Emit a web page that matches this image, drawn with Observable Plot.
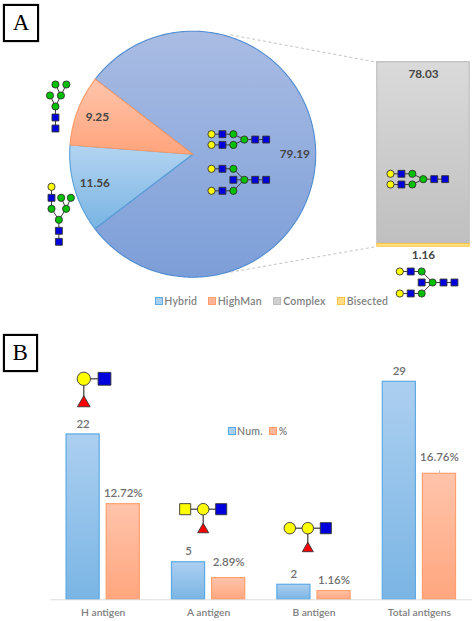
<!doctype html>
<html><head><meta charset="utf-8">
<script src="https://cdn.jsdelivr.net/npm/d3@7"></script>
<script src="https://cdn.jsdelivr.net/npm/@observablehq/plot@0.6"></script>
<style>
html,body{margin:0;padding:0;background:#fff}
#chart{position:relative;width:472px;height:621px;overflow:hidden;font-family:Lato,sans-serif}
.frame{position:absolute;box-sizing:border-box;border:2px solid #000;box-shadow:0 0 1px #333;display:flex;align-items:center;justify-content:center;font:23px "Liberation Serif",serif;color:#000}
.lg{position:absolute;font:600 10.5px Lato,sans-serif;color:#808080;line-height:12px;white-space:nowrap;letter-spacing:.2px}
.sw{position:absolute;width:6px;height:6px;border:1px solid}
</style></head><body>
<svg width="0" height="0" style="position:absolute"><defs>
<linearGradient id="gcomplex" x1="0" y1="0" x2="0" y2="1"><stop offset="0" stop-color="#a9bce3"/><stop offset="1" stop-color="#7c9ed8"/></linearGradient>
<linearGradient id="ghybrid" x1="0" y1="0" x2="0" y2="1"><stop offset="0" stop-color="#b4d4f1"/><stop offset="1" stop-color="#78b4e3"/></linearGradient>
<linearGradient id="ghigh" x1="0" y1="0" x2="0" y2="1"><stop offset="0" stop-color="#ffc4ab"/><stop offset="1" stop-color="#ffa47c"/></linearGradient>
<linearGradient id="ggrey" x1="0" y1="0" x2="0" y2="1"><stop offset="0" stop-color="#dadada"/><stop offset="1" stop-color="#bfbfbf"/></linearGradient>
<linearGradient id="gnum" x1="0" y1="0" x2="0" y2="1"><stop offset="0" stop-color="#accff0"/><stop offset="1" stop-color="#7ab5e4"/></linearGradient>
<linearGradient id="gpct" x1="0" y1="0" x2="0" y2="1"><stop offset="0" stop-color="#ffc4ab"/><stop offset="1" stop-color="#ffa67e"/></linearGradient>
</defs></svg>
<div id="chart"></div>
<script>
// ---- values ----
const pieNames = ["Complex", "Hybrid", "HighMan"];
const pieValues = [79.19, 11.56, 9.25];
const breakdownNames = ["Bisected", "Complex"];
const breakdownValues = [1.16, 78.03];
const antigenGroups = ["H antigen", "A antigen", "B antigen", "Total antigens"];
const antigenCounts = [22, 5, 2, 29];
const antigenPercents = [12.72, 2.89, 1.16, 16.76];
const legendA = ["Hybrid", "HighMan", "Complex", "Bisected"];
const legendB = ["Num.", "%"];

// ---- glycan structures: residue [type, column, row], bonds between residue indices ----
const biantennary = {
  residues: [["gal",0,0],["glc",1,0],["man",2,0],["gal",0,1],["glc",1,1],["man",2,1],["man",3,.5],["glc",4,.5],["glc",5,.5]],
  bonds: [[0,1],[1,2],[2,6],[3,4],[4,5],[5,6],[6,7],[7,8]]
};
const bisectedGlycan = {
  residues: [["gal",0,0],["glc",1,0],["man",2,0],["glc",2,1],["man",3,1],["glc",4,1],["glc",5,1],["gal",0,2],["glc",1,2],["man",2,2]],
  bonds: [[0,1],[1,2],[2,4],[3,4],[4,5],[5,6],[7,8],[8,9],[9,4]]
};
const highMannose = {
  residues: [["man",.5,0],["man",1.5,0],["man",0,1],["man",1,1],["man",.5,2],["glc",.5,3],["glc",.5,4]],
  bonds: [[0,3],[1,3],[2,4],[3,4],[4,5],[5,6]]
};
const hybridGlycan = {
  residues: [["gal",0,0],["glc",0,1],["man",.88,1],["man",1.76,1],["man",0,2],["man",1.33,2],["man",.67,3],["glc",.67,4],["glc",.67,5]],
  bonds: [[0,1],[1,4],[4,6],[2,5],[3,5],[5,6],[6,7],[7,8]]
};
const hAntigen = {
  residues: [["gal",0,0],["glc",1,0],["fuc",0,1.18]],
  bonds: [[0,1],[0,2]]
};
const aAntigen = {
  residues: [["galnac",0,0],["gal",1,0],["glc",2,0],["fuc",1,1.09]],
  bonds: [[0,1],[1,2],[1,3]]
};
const bAntigen = {
  residues: [["gal",0,0],["gal",1,0],["glc",2,0],["fuc",1,1.07]],
  bonds: [[0,1],[1,2],[1,3]]
};
const glycanPlacements = [
  [biantennary, 211, 133.7, 10.93, 10.7, 1],
  [bisectedGlycan, 211, 168.3, 10.93, 11, 1],
  [biantennary, 390, 173.3, 10.93, 10.7, 1],
  [bisectedGlycan, 399.3, 271, 10.93, 11, 1],
  [highMannose, 49.5, 84, 10.9, 11, 1],
  [hybridGlycan, 51, 186.3, 11, 11, 1],
  [hAntigen, 83.3, 378.3, 20.7, 20.6, 1.85],
  [aAntigen, 184.7, 508.7, 18, 18.7, 1.6],
  [bAntigen, 289.3, 527.7, 18, 19, 1.6]
];

const W = 472, H = 621;
const FONT = "Lato, sans-serif";
const chart = document.getElementById("chart");
const layerStyle = {position:"absolute", left:"0", top:"0", background:"transparent", overflow:"visible"};
const rad = d => d * Math.PI / 180;

// ---- Panel A: pie ----
const pieFills = {Complex:"url(#gcomplex)", Hybrid:"url(#ghybrid)", HighMan:"url(#ghigh)"};
const pieStrokes = {Complex:"#4f8bcf", Hybrid:"#5a9fd8", HighMan:"#fb9a68"};
const arcs = d3.pie().sort(null).startAngle(rad(-52.4)).endAngle(rad(307.6))(pieValues);
const slices = arcs.map((a, i) => {
  const n = Math.ceil((a.endAngle - a.startAngle) / rad(1));
  const pts = [[0, 0]];
  for (let k = 0; k <= n; k++) {
    const t = a.startAngle + (a.endAngle - a.startAngle) * k / n;
    pts.push([Math.sin(t), Math.cos(t)]);
  }
  pts.push([0, 0]);
  const mid = (a.startAngle + a.endAngle) / 2;
  return {name: pieNames[i], value: a.value, pts, lx: .83 * Math.sin(mid), ly: .83 * Math.cos(mid)};
});
chart.appendChild(Plot.plot({
  width: W, height: H, style: layerStyle,
  x: {domain: [-1, 1], range: [69.2, 315.2], axis: null},
  y: {domain: [-1, 1], range: [276.7, 30.7], axis: null},
  marks: [
    ...slices.map(s => Plot.line(s.pts, {x: d => d[0], y: d => d[1], curve: "linear", fill: pieFills[s.name], stroke: pieStrokes[s.name], strokeWidth: 1.1, strokeLinejoin: "round"})),
    Plot.text(slices, {x: "lx", y: "ly", text: d => d.value.toFixed(2), fontFamily: FONT, fontWeight: 700, fontSize: 11.8, fill: "#454545"})
  ]
}));

// ---- Panel A: stacked breakdown bar ----
const breakdown = breakdownNames.map((name, i) => ({name, value: breakdownValues[i], group: "Complex + Bisected"}));
chart.appendChild(Plot.plot({
  width: W, height: H, style: layerStyle,
  x: {domain: ["Complex + Bisected"], range: [376.8, 469.2], padding: 0, round: false, axis: null},
  y: {domain: [0, 79.19], range: [246.2, 61.7], axis: null},
  marks: [
    Plot.barY(breakdown.filter(d => d.name === "Complex"), {x: "group", y1: breakdownValues[0], y2: breakdownValues[0] + breakdownValues[1], fill: "url(#ggrey)", stroke: "#bdbdbd", strokeWidth: 1.2}),
    Plot.barY(breakdown.filter(d => d.name === "Bisected"), {x: "group", y: "value", fill: "#ffe08a", stroke: "#ffc53d", strokeWidth: 1}),
    Plot.text(breakdown.filter(d => d.name === "Complex"), {x: "group", y: breakdownValues[0] + breakdownValues[1], dy: 11.8, text: d => d.value.toFixed(2), fontFamily: FONT, fontWeight: 700, fontSize: 11.8, fill: "#454545"}),
    Plot.text(breakdown.filter(d => d.name === "Bisected"), {x: "group", y: 0, dy: 9, text: d => d.value.toFixed(2), fontFamily: FONT, fontWeight: 700, fontSize: 11.8, fill: "#454545"})
  ]
}));

// ---- Panel B: grouped bars ----
const antigenRows = antigenGroups.flatMap((group, i) => [
  {group, series: "Num.", value: antigenCounts[i], label: String(antigenCounts[i])},
  {group, series: "%", value: antigenPercents[i], label: antigenPercents[i].toFixed(2) + "%"}
]);
const isNum = d => d.series === "Num.";
const raised = d => d.group === "A antigen" && !isNum(d) || d.group === "Total antigens" && !isNum(d);
const totalPct = antigenRows.filter(d => d.group === "Total antigens" && !isNum(d));
chart.appendChild(Plot.plot({
  width: W, height: H, style: layerStyle,
  marginLeft: 50, marginRight: 0.4, marginBottom: 21.7, marginTop: 0,
  fx: {domain: antigenGroups, padding: 0, round: false, label: null},
  x: {domain: legendB, axis: null, round: false, paddingInner: .175, paddingOuter: .4},
  y: {domain: [0, 29], range: [599.3, 381.3], axis: null},
  marks: [
    Plot.barY(antigenRows.filter(isNum), {fx: "group", x: "series", y: "value", fill: "url(#gnum)", stroke: "#5faae3", strokeWidth: 1.2}),
    Plot.barY(antigenRows.filter(d => !isNum(d)), {fx: "group", x: "series", y: "value", fill: "url(#gpct)", stroke: "#ff9f70", strokeWidth: 1.2}),
    Plot.ruleY([0], {stroke: "#dcdcdc", strokeWidth: 1}),
    Plot.ruleX(totalPct, {fx: "group", x: "series", y1: "value", y2: d => d.value + 0.45, stroke: "#c8c8c8", strokeWidth: 1}),
    Plot.text(antigenRows.filter(d => !raised(d)), {fx: "group", x: "series", y: "value", dy: -10.5, text: "label", fontFamily: FONT, fontWeight: 600, fontSize: 11.5, fill: "#707070"}),
    Plot.text(antigenRows.filter(raised), {fx: "group", x: "series", y: "value", dy: -16, text: "label", fontFamily: FONT, fontWeight: 600, fontSize: 11.5, fill: "#707070"}),
    Plot.axisFx({anchor: "bottom", label: null, tickSize: 0, tickPadding: 9, fontSize: 10.3, fontWeight: 600, fontFamily: FONT, color: "#808080"})
  ]
}));

// ---- Overlay: glycan icons, zoom connectors ----
const resFill = {gal:"#ffff00", galnac:"#ffff00", glc:"#0000dc", man:"#00c000", fuc:"#ff0000"};
const resSymbol = {gal:"circle", galnac:"square", glc:"square", man:"circle", fuc:"triangle"};
const resR = {gal:3.6, galnac:3.9, glc:3.9, man:3.6, fuc:2.55};
const residues = [], bonds = [];
glycanPlacements.forEach(([g, x0, y0, sx, sy, scale]) => {
  const P = g.residues.map(([type, c, r]) => ({type, x: x0 + c * sx, y: y0 + r * sy, r: resR[type] * scale}));
  P.forEach(p => residues.push(p));
  g.bonds.forEach(([a, b]) => bonds.push({x1: P[a].x, y1: P[a].y, x2: P[b].x, y2: P[b].y, w: scale > 1 ? 1.2 : 1}));
});
const connectors = [
  {x1: 230, y1: 34.3, x2: 376.3, y2: 61.7},
  {x1: 230, y1: 271.7, x2: 376.3, y2: 246}
];
chart.appendChild(Plot.plot({
  width: W, height: H, style: layerStyle, margin: 0,
  x: {type: "identity", axis: null},
  y: {type: "identity", axis: null},
  marks: [
    Plot.link(connectors, {x1: "x1", y1: "y1", x2: "x2", y2: "y2", stroke: "#c4c4c4", strokeWidth: 1, strokeDasharray: "3 2.5"}),
    Plot.link(bonds, {x1: "x1", y1: "y1", x2: "x2", y2: "y2", stroke: "#3a3a3a", strokeWidth: "w"}),
    ...Object.keys(resFill).map(t => Plot.dot(residues.filter(d => d.type === t), {
      x: "x", y: "y", r: "r", symbol: () => resSymbol[t], fill: resFill[t], stroke: "#333", strokeWidth: .9
    }))
  ],
  r: {type: "identity"},
  symbol: {type: "identity"}
}));

// ---- HTML parts: panel letters, legends ----
function frame(text, x, y, w, h) {
  const d = document.createElement("div");
  d.className = "frame"; d.textContent = text;
  Object.assign(d.style, {left: x + "px", top: y + "px", width: w + "px", height: h + "px"});
  chart.appendChild(d);
}
frame("A", 3, 3.5, 36, 38);
frame("B", 3, 334, 34.5, 38);
function legendItem(text, sx, tx, cy, fill, stroke) {
  const s = document.createElement("div");
  s.className = "sw";
  Object.assign(s.style, {left: sx + "px", top: (cy - 4) + "px", background: fill, borderColor: stroke});
  chart.appendChild(s);
  const t = document.createElement("div");
  t.className = "lg"; t.textContent = text;
  Object.assign(t.style, {left: tx + "px", top: (cy - 6) + "px"});
  chart.appendChild(t);
}
const legendAStyle = [["#a9d0f0","#5faae3",154.5,164.3],["#ffb596","#ff9f70",207.7,217.7],["#cfcfcf","#bdbdbd",273,283.3],["#ffdc85","#ffc53d",336.7,346.7]];
legendA.forEach((name, i) => legendItem(name, legendAStyle[i][2], legendAStyle[i][3], 300.7, legendAStyle[i][0], legendAStyle[i][1]));
const legendBStyle = [["#a9d0f0","#5faae3",227.7,237],["#ffb596","#ff9f70",269.3,278.7]];
legendB.forEach((name, i) => legendItem(name, legendBStyle[i][2], legendBStyle[i][3], 431, legendBStyle[i][0], legendBStyle[i][1]));
</script>
</body></html>
